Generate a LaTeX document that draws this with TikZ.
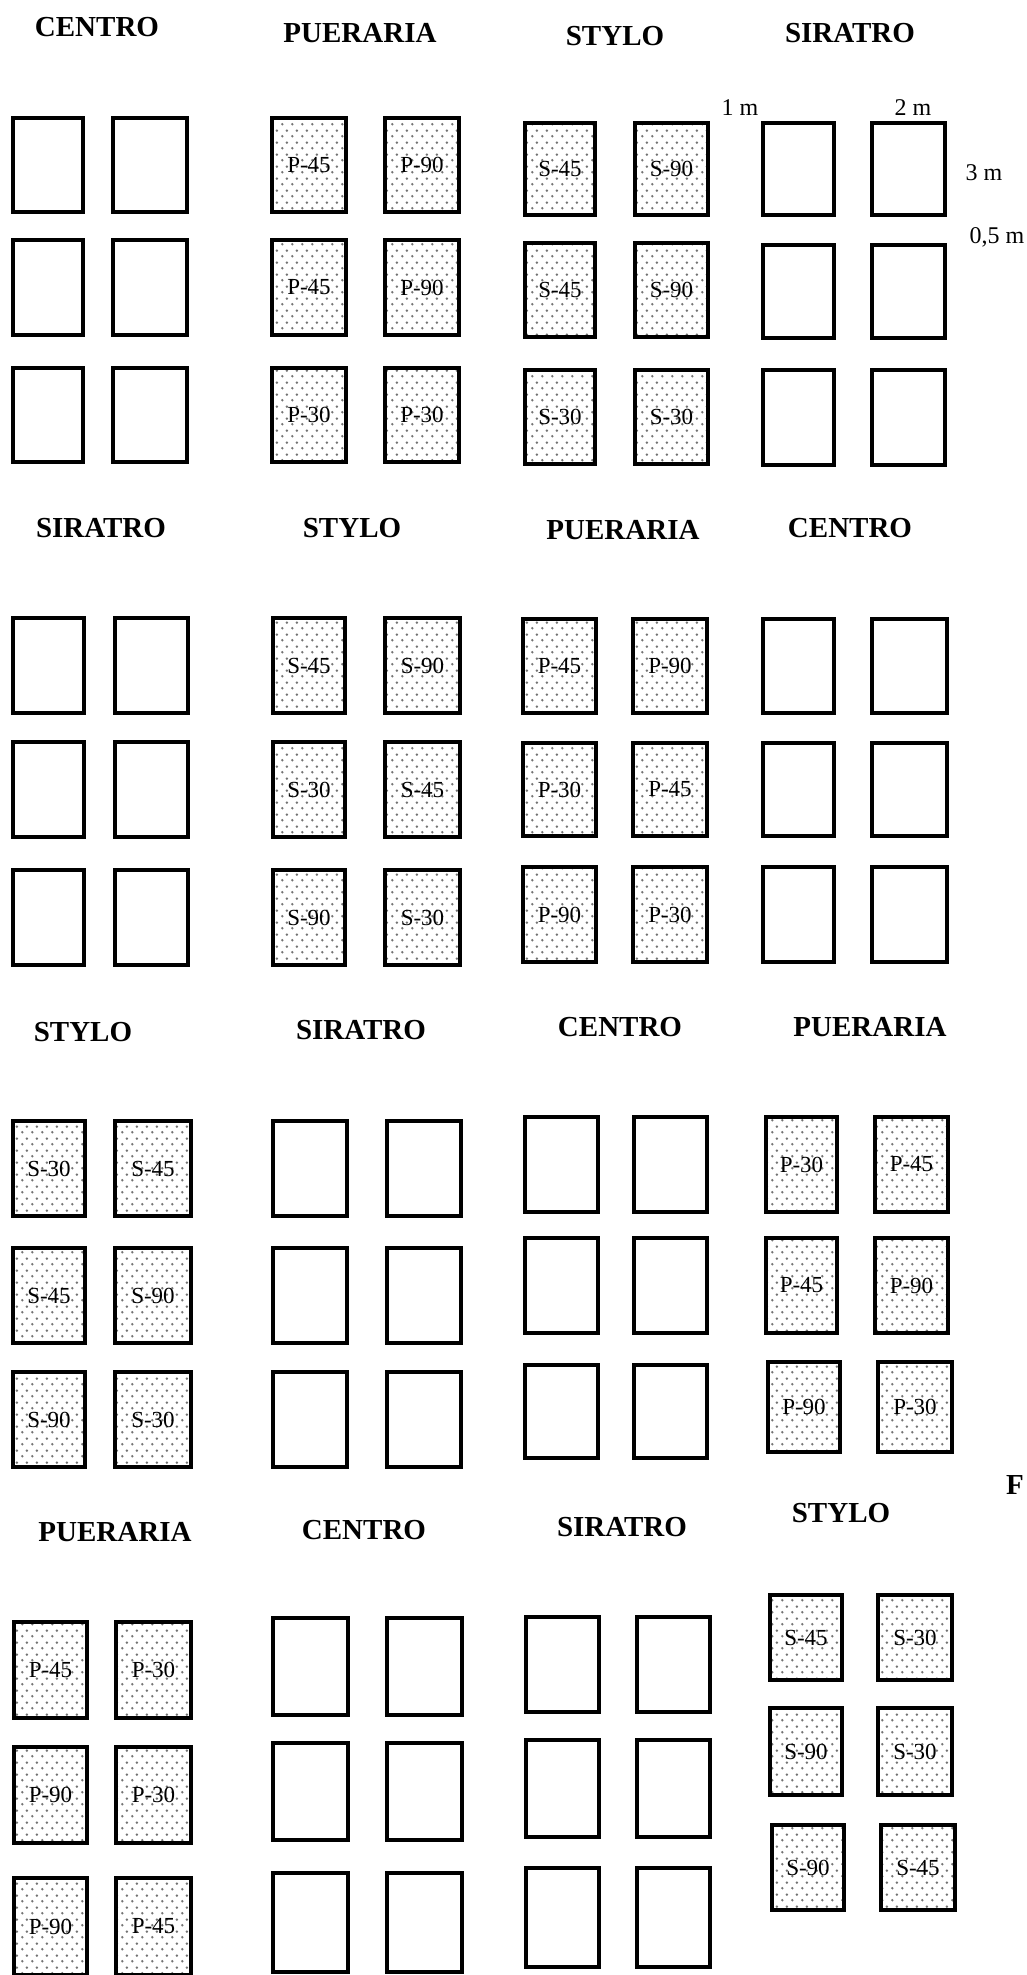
\documentclass[tikz,border=0pt]{standalone}
\usepackage{fontspec}
\setmainfont{Liberation Serif}
\usetikzlibrary{patterns.meta}
\tikzdeclarepattern{
  name=stip,
  type=uncolored,
  bounding box={(0pt,0pt) and (10pt,12pt)},
  tile size={(10pt,12pt)},
  code={
    \fill (2.5pt,3pt) circle (1.45pt);
    \fill (7.5pt,9pt) circle (1.45pt);
  }
}
\tikzset{
  blank/.style={draw=black, line width=3.5pt, inner sep=0pt},
  sown/.style={draw=black, line width=4pt, inner sep=0pt, pattern=stip, pattern color=black!55,
    font=\fontsize{23}{23}\selectfont},
  ttl/.style={font=\fontsize{29}{29}\selectfont\bfseries, inner sep=0pt},
  dim/.style={font=\fontsize{24}{24}\selectfont, inner sep=0pt}
}
\newcommand{\emptyrow}[7]{%
  \node[blank, minimum width={(#3-#2)*1pt}, minimum height={(#7-#6)*1pt}] (#1l) at ({(#2+#3)/2},{(#6+#7)/2}) {};
  \node[blank, minimum width={(#5-#4)*1pt}, minimum height={(#7-#6)*1pt}] (#1r) at ({(#4+#5)/2},{(#6+#7)/2}) {};}
\newcommand{\sownrow}[9]{%
  \node[sown, minimum width={(#3-#2)*1pt}, minimum height={(#7-#6)*1pt}] (#1l) at ({(#2+#3)/2},{(#6+#7)/2}) {#8};
  \node[sown, minimum width={(#5-#4)*1pt}, minimum height={(#7-#6)*1pt}] (#1r) at ({(#4+#5)/2},{(#6+#7)/2}) {#9};}
\begin{document}
\begin{tikzpicture}[x=1pt, y=-1pt]
\useasboundingbox (0,0) rectangle (1026,1975);
\begin{scope}
\clip (0,0) rectangle (1026,1975);
% ---------- Block 1
\node[ttl] (t1a) at (97,27) {CENTRO};
\node[ttl] (t1b) at (360,33) {PUERARIA};
\node[ttl] (t1c) at (615,36) {STYLO};
\node[ttl] (t1d) at (850,33) {SIRATRO};
\emptyrow{b1a1}{13}{83}{113}{187}{118}{212}
\emptyrow{b1a2}{13}{83}{113}{187}{240}{335}
\emptyrow{b1a3}{13}{83}{113}{187}{368}{462}
\sownrow{b1b1}{272}{346}{385}{459}{118}{212}{P-45}{P-90}
\sownrow{b1b2}{272}{346}{385}{459}{240}{335}{P-45}{P-90}
\sownrow{b1b3}{272}{346}{385}{459}{368}{462}{P-30}{P-30}
\sownrow{b1c1}{525}{595}{635}{708}{123}{215}{S-45}{S-90}
\sownrow{b1c2}{525}{595}{635}{708}{243}{337}{S-45}{S-90}
\sownrow{b1c3}{525}{595}{635}{708}{370}{464}{S-30}{S-30}
\emptyrow{b1d1}{763}{834}{872}{945}{123}{215}
\emptyrow{b1d2}{763}{834}{872}{945}{245}{338}
\emptyrow{b1d3}{763}{834}{872}{945}{370}{465}
\node[dim] (m1) at (740,108) {1 m};
\node[dim] (m2) at (913,108) {2 m};
\node[dim] (m3) at (984,173) {3 m};
\node[dim] (m05) at (997,237) {0,5 m};
% ---------- Block 2
\node[ttl] (t2a) at (101,528) {SIRATRO};
\node[ttl] (t2b) at (352,528) {STYLO};
\node[ttl] (t2c) at (623,530) {PUERARIA};
\node[ttl] (t2d) at (850,528) {CENTRO};
\emptyrow{b2a1}{13}{84}{115}{188}{618}{713}
\emptyrow{b2a2}{13}{84}{115}{188}{742}{837}
\emptyrow{b2a3}{13}{84}{115}{188}{870}{965}
\sownrow{b2b1}{273}{345}{385}{460}{618}{713}{S-45}{S-90}
\sownrow{b2b2}{273}{345}{385}{460}{742}{837}{S-30}{S-45}
\sownrow{b2b3}{273}{345}{385}{460}{870}{965}{S-90}{S-30}
\sownrow{b2c1}{523}{596}{633}{707}{619}{713}{P-45}{P-90}
\sownrow{b2c2}{523}{596}{633}{707}{743}{836}{P-30}{P-45}
\sownrow{b2c3}{523}{596}{633}{707}{867}{962}{P-90}{P-30}
\emptyrow{b2d1}{763}{834}{872}{947}{619}{713}
\emptyrow{b2d2}{763}{834}{872}{947}{743}{836}
\emptyrow{b2d3}{763}{834}{872}{947}{867}{962}
% ---------- Block 3
\node[ttl] (t3a) at (83,1032) {STYLO};
\node[ttl] (t3b) at (361,1030) {SIRATRO};
\node[ttl] (t3c) at (620,1027) {CENTRO};
\node[ttl] (t3d) at (870,1027) {PUERARIA};
\sownrow{b3a1}{13}{85}{115}{191}{1121}{1216}{S-30}{S-45}
\sownrow{b3a2}{13}{85}{115}{191}{1248}{1343}{S-45}{S-90}
\sownrow{b3a3}{13}{85}{115}{191}{1372}{1467}{S-90}{S-30}
\emptyrow{b3b1}{273}{347}{387}{461}{1121}{1216}
\emptyrow{b3b2}{273}{347}{387}{461}{1248}{1343}
\emptyrow{b3b3}{273}{347}{387}{461}{1372}{1467}
\emptyrow{b3c1}{525}{598}{634}{707}{1117}{1212}
\emptyrow{b3c2}{525}{598}{634}{707}{1238}{1333}
\emptyrow{b3c3}{525}{598}{634}{707}{1365}{1458}
\sownrow{b3d1}{766}{837}{875}{948}{1117}{1212}{P-30}{P-45}
\sownrow{b3d2}{766}{837}{875}{948}{1238}{1333}{P-45}{P-90}
\sownrow{b3d3}{768}{840}{878}{952}{1362}{1452}{P-90}{P-30}
% ---------- Block 4
\node[ttl] (t4a) at (115,1532) {PUERARIA};
\node[ttl] (t4b) at (364,1530) {CENTRO};
\node[ttl] (t4c) at (622,1527) {SIRATRO};
\node[ttl] (t4d) at (841,1513) {STYLO};
\sownrow{b4a1}{14}{87}{116}{191}{1622}{1718}{P-45}{P-30}
\sownrow{b4a2}{14}{87}{116}{191}{1747}{1843}{P-90}{P-30}
\sownrow{b4a3}{14}{87}{116}{191}{1878}{1975}{P-90}{P-45}
\emptyrow{b4b1}{273}{348}{387}{462}{1618}{1715}
\emptyrow{b4b2}{273}{348}{387}{462}{1743}{1840}
\emptyrow{b4b3}{273}{348}{387}{462}{1873}{1972}
\emptyrow{b4c1}{526}{599}{637}{710}{1617}{1712}
\emptyrow{b4c2}{526}{599}{637}{710}{1740}{1837}
\emptyrow{b4c3}{526}{599}{637}{710}{1868}{1967}
\sownrow{b4d1}{770}{842}{878}{952}{1595}{1680}{S-45}{S-30}
\sownrow{b4d2}{770}{842}{878}{952}{1708}{1795}{S-90}{S-30}
\sownrow{b4d3}{772}{844}{881}{955}{1825}{1910}{S-90}{S-45}
% letter at the right edge
\node[ttl, anchor=east] (cut) at (1024,1485) {F};
\end{scope}
\end{tikzpicture}
\end{document}
